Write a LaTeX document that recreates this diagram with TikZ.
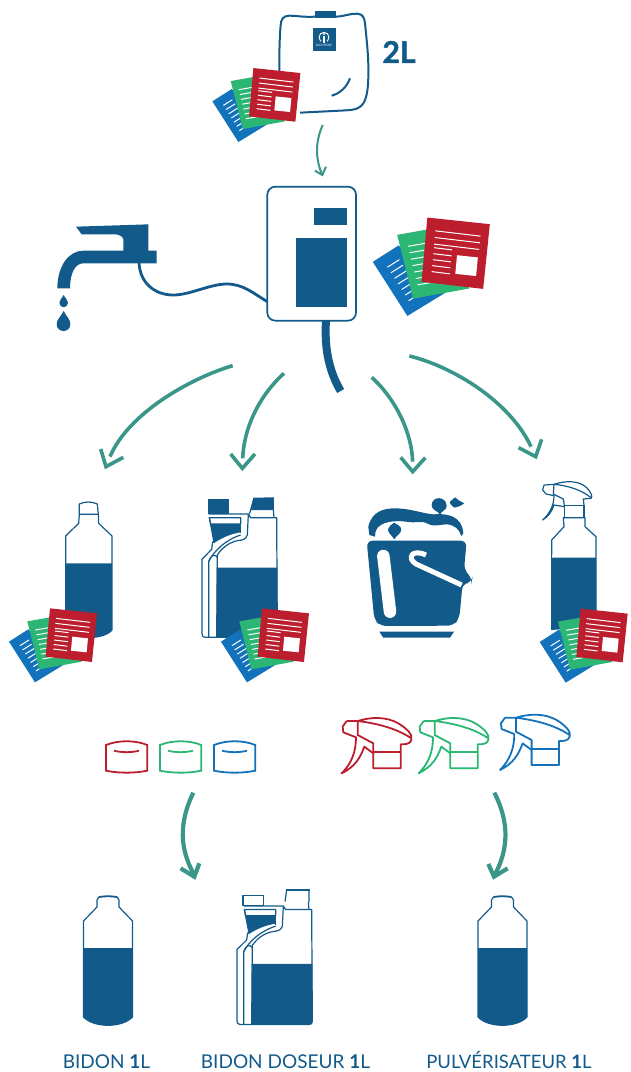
\documentclass[tikz,border=0pt]{standalone}
\usepackage{fontspec}
\setmainfont{Lato}
\definecolor{BlueClr}{RGB}{17,90,138}
\definecolor{SheetClr}{RGB}{18,114,188}
\definecolor{GreenClr}{RGB}{43,182,115}
\definecolor{RedClr}{RGB}{188,30,45}
\definecolor{TealClr}{RGB}{58,150,136}
\tikzset{
  wire/.style={color=BlueClr,line width=1.2pt,line join=round},
  flow/.style={color=TealClr,line width=3.6pt},
  flowbig/.style={color=TealClr,line width=4.2pt},
  flowthin/.style={color=TealClr,line width=2pt},
  tick/.style={white,line width=1pt},
  caption/.style={BlueClr,inner sep=0pt,anchor=base},
  pics/docstack/.style={code={
    \begin{scope}[shift={(-71.33,-155)},scale=1/3]
    \fill[SheetClr] (27,485) -- (85,448) -- (190,555) -- (105,607) -- cycle;
    \foreach \i in {0,...,6} \draw[tick] ({60+8*\i},{497+12.6*\i}) -- ++(27,-17);
    \fill[GreenClr] (82,424) -- (150,412) -- (245,545) -- (118,568) -- cycle;
    \foreach \i in {0,...,6} \draw[tick] ({106+3.6*\i},{450+14.5*\i}) -- ++(40,-7);
    \fill[RedClr] (150,385) -- (291,400) -- (276,546) -- (137,530) -- cycle;
    \foreach \i in {0,1,2} \draw[tick] ({168-1.5*\i},{415+15*\i}) -- ++(102,12);
    \foreach \i in {0,...,4} \draw[tick] ({165-1.3*\i},{453+13.5*\i}) -- ++(41,5);
    \fill[white] (217,470) -- (264,475) -- (260,517) -- (213,512) -- cycle;
    \end{scope}
  }},
  pics/smallbottle/.style={code={
    \fill[BlueClr] (-24.5,52) -- (24.5,52) -- (24.5,121) .. controls (14,132) and (-14,132) .. (-24.5,121) -- cycle;
    \draw[wire] (-9,1) -- (-11,4) -- (-11,11) -- (-24.5,25) -- (-24.5,121) .. controls (-14,132) and (14,132) .. (24.5,121) -- (24.5,25) -- (11,11) -- (11,4) -- (9,1);
    \draw[BlueClr,line width=1.8pt] (-9,1) .. controls (-3,0) and (3,0) .. (9,1);
  }},
  pics/doser/.style={code={
    \begin{scope}[scale=1/3]
    \fill[BlueClr] (650,#1) -- (832,#1) -- (832,462) .. controls (832,470) and (828,472) .. (822,472) -- (650,472) -- cycle;
    \fill[BlueClr] (632,132) -- (722,132) -- (722,155) .. controls (690,160) and (665,172) .. (642,187) -- cycle;
    \draw[wire] (626,102) -- (745,102) -- (752,113) -- (830,113) -- (832,462) .. controls (832,470) and (828,472) .. (822,472) -- (615,472) .. controls (608,472) and (606,468) .. (606,460) -- (606,238) -- (635,208) -- (638,186) -- (642,187) .. controls (665,172) and (690,160) .. (722,155);
    \draw[wire] (628,113) -- (722,113) -- (722,132) -- (632,132) -- cycle;
    \draw[wire] (628,113) -- (642,187);
    \draw[wire] (722,132) -- (722,160);
    \draw[wire] (745,102) -- (742,165) .. controls (738,180) and (725,180) .. (712,182) .. controls (685,188) and (665,205) .. (652,225) -- (650,472);
    \draw[wire] (626,472) -- (626,245) .. controls (640,215) and (675,180) .. (722,165);
    \draw[wire] (626,245) .. controls (632,225) and (645,220) .. (652,232);
    \end{scope}
  }},
  pics/capring/.style={code={
    \begin{scope}[scale=1/3]
    \draw[color=#1,line width=1.8pt] (48,135) .. controls (85,120) and (135,120) .. (172,135) -- (172,212) .. controls (135,220) and (85,220) .. (48,212) -- cycle;
    \draw[color=#1,line width=1.8pt] (72,152) .. controls (95,158) and (125,158) .. (147,152);
    \end{scope}
  }},
  pics/trigger/.style={code={
    \begin{scope}[scale=1/3]
    \draw[color=#1,line width=1.8pt,line join=round] (50,48) -- (38,65) -- (40,82) -- (78,97) .. controls (78,140) and (65,175) .. (35,205) .. controls (75,185) and (90,160) .. (103,125) -- (130,145);
    \draw[color=#1,line width=1.8pt,line join=round] (50,48) -- (83,48) .. controls (125,35) and (170,35) .. (205,55) .. controls (230,70) and (250,90) .. (244,105) .. controls (240,118) and (225,118) .. (212,118) -- (212,190) -- (130,190) -- (130,115) -- (83,90) -- (83,48) .. controls (140,55) and (200,70) .. (244,100);
    \draw[color=#1,line width=1.8pt] (130,142) -- (212,142);
    \end{scope}
  }}
}
\begin{document}
\begin{tikzpicture}[x=1pt,y=-1pt]
\useasboundingbox (0,0) rectangle (630,1072);

% Concentrate pouch.
\begin{scope}[shift={(200,0)},scale=1/3]
\fill[BlueClr] (345,33) rectangle (408,55);
\draw[BlueClr,line width=2pt] (345,50) .. controls (310,52) and (290,47) .. (268,47) .. controls (248,47) and (243,60) .. (242,75) .. controls (238,120) and (238,170) .. (238,215);
\draw[BlueClr,line width=2pt] (408,50) .. controls (430,50) and (450,40) .. (472,41) .. controls (490,42) and (493,55) .. (495,70) .. controls (500,120) and (506,170) .. (505,220) .. controls (505,260) and (502,290) .. (490,310) .. controls (475,332) and (450,330) .. (420,332) -- (300,338);
\draw[BlueClr,line width=2pt] (450,235) .. controls (440,262) and (420,280) .. (395,287);
\fill[BlueClr] (338,83) rectangle (407,152);
\draw[white,line width=.9pt] (372,112) circle (15);
\fill[BlueClr] (364,122) rectangle (380,130);
\draw[white,line width=1.3pt] (372,108) -- (372,128);
\fill[white] (372,102) circle (3.5);
\node[white,font=\fontsize{3}{3}\selectfont,inner sep=0pt] (logotext) at (372,137) {DUCHESNE};
\end{scope}
\node[BlueClr,font=\bfseries\fontsize{30}{30}\selectfont\addfontfeature{FakeBold=1.5},inner sep=0pt] (volume) at (399,52) {2L};
\pic at (274.7,94.7) {docstack};

% Small arrow to the unit.
\begin{scope}[shift={(200,0)},scale=1/3]
\draw[flowthin] (368,375) .. controls (346,425) and (345,475) .. (367,525);
\draw[flowthin] (345,512) -- (367,525) -- (378,500);
\end{scope}

% Tap, hose and drain.
\begin{scope}[shift={(40,180)},scale=1/3]
\fill[BlueClr] (108,140) -- (325,133) -- (325,212) -- (350,212) -- (350,250) -- (130,250) .. controls (105,250) and (90,280) .. (90,325) -- (52,325) .. controls (52,260) and (85,212) .. (130,212) -- (250,212) -- (250,178) .. controls (248,168) and (235,163) .. (225,163) -- (125,163) -- cycle;
\fill[BlueClr] (71,345) .. controls (76,355) and (84,360) .. (84,368) .. controls (84,386) and (58,386) .. (58,368) .. controls (58,360) and (66,355) .. (71,345) -- cycle;
\fill[BlueClr] (71,393) .. controls (78,408) and (91,418) .. (91,432) .. controls (91,460) and (50,460) .. (50,432) .. controls (50,418) and (64,408) .. (71,393) -- cycle;
\draw[BlueClr,line width=2.8pt] (297,248) .. controls (300,310) and (345,345) .. (400,345) .. controls (450,345) and (510,312) .. (560,312) .. controls (610,312) and (640,340) .. (682,365);
\draw[BlueClr,line width=8pt] (858,422) .. controls (853,500) and (865,570) .. (902,633);
\draw[BlueClr,line width=1.7pt,fill=white,rounded corners=8pt] (682,20) rectangle (948,422);
\fill[BlueClr] (822,84) rectangle (921,134);
\fill[BlueClr] (768,174) rectangle (921,381);
\end{scope}
\pic[scale=1.33] at (455.7,253) {docstack};

% Arrows to the four containers.
\begin{scope}[shift={(90,350)},scale=1/3]
\draw[flow] (428,47) .. controls (300,85) and (115,190) .. (60,320);
\draw[flow] (32,297) -- (48,350) -- (100,322);
\draw[flow] (582,70) .. controls (510,135) and (462,230) .. (458,325);
\draw[flow] (422,312) -- (457,355) -- (495,312);
\end{scope}
\begin{scope}[shift={(360,345)},scale=1/3]
\draw[flow] (35,97) .. controls (105,160) and (155,260) .. (158,350);
\draw[flow] (122,337) -- (158,380) -- (196,338);
\draw[flow] (148,33) .. controls (280,65) and (450,170) .. (513,305);
\draw[flow] (476,308) -- (527,335) -- (545,283);
\end{scope}

% Bottle.
\begin{scope}[shift={(0,480)},scale=1/3]
\fill[BlueClr] (197,250) -- (336,250) -- (336,450) .. controls (310,480) and (225,480) .. (197,450) -- cycle;
\draw[wire] (238,103) -- (236,130) -- (197,168) -- (197,450) .. controls (225,480) and (310,480) .. (336,450) -- (336,168) -- (296,130) -- (295,103) -- cycle;
\draw[wire] (238,103) -- (238,72) .. controls (255,64) and (275,64) .. (292,72) -- (295,103);
\end{scope}
\pic at (71.3,635) {docstack};

% Doser jug.
\begin{scope}[shift={(0,480)},scale=1/3]
\fill[BlueClr] (624,58) rectangle (686,102);
\fill[BlueClr] (750,90) -- (760,53) -- (822,52) -- (822,90) -- cycle;
\draw[wire] (752,90) -- (748,102);
\draw[wire] (820,90) -- (822,113);
\end{scope}
\pic at (0,480) {doser=263};
\pic at (283.3,635) {docstack};

% Bucket.
\begin{scope}[shift={(340,470)},scale=1/3]
\fill[BlueClr,rounded corners=6pt] (80,212) -- (380,212) -- (372,300) -- (397,325) -- (395,338) -- (368,340) -- (358,445) -- (340,467) -- (122,468) -- (103,450) -- cycle;
\draw[white,line width=12.5pt,line cap=round] (130,258) -- (150,425);
\draw[white,line width=5pt] (365,345) -- (228,282) .. controls (200,265) and (215,235) .. (258,255);
\fill[BlueClr] (118,485) -- (342,485) -- (330,503) -- (130,503) -- cycle;
\fill[BlueClr] (85,170) .. controls (95,125) and (130,115) .. (165,115) .. controls (210,115) and (245,130) .. (280,133) .. controls (320,130) and (365,135) .. (370,190) -- (364,198) .. controls (358,178) and (345,165) .. (320,163) .. controls (300,163) and (285,172) .. (265,162) .. controls (245,150) and (225,160) .. (205,156) .. controls (180,152) and (135,150) .. (114,172) .. controls (106,182) and (105,190) .. (105,200) -- (88,195) -- cycle;
\fill[BlueClr] (162,158) .. controls (175,165) and (184,170) .. (184,180) .. controls (182,192) and (170,195) .. (163,208) .. controls (155,195) and (144,190) .. (144,178) .. controls (145,168) and (155,165) .. (162,158) -- cycle;
\fill[BlueClr] (275,106) .. controls (275,76) and (320,78) .. (320,108) .. controls (320,120) and (305,122) .. (300,134) .. controls (295,122) and (275,122) .. (275,106) -- cycle;
\fill[BlueClr] (345,82) .. controls (352,90) and (362,94) .. (373,100) .. controls (362,108) and (352,112) .. (343,113) .. controls (335,108) and (328,100) .. (330,95) .. controls (335,90) and (340,88) .. (345,82) -- cycle;
\end{scope}

% Spray bottle.
\begin{scope}[shift={(340,470)},scale=1/3]
\fill[BlueClr] (633,263) -- (768,263) -- (768,470) -- (633,480) -- cycle;
\end{scope}
\begin{scope}[shift={(530,475)},scale=1/3]
\draw[wire] (65,240) -- (65,195) -- (102,155) -- (100,128) -- (165,128) -- (165,155) -- (198,185) -- (198,420);
\draw[wire] (65,240) -- (65,460);
\draw[wire] (103,128) -- (103,92) -- (162,92) -- (162,128);
\draw[wire] (42,30) -- (38,45) -- (48,57) -- (72,62) .. controls (72,90) and (60,115) .. (38,135) .. controls (55,125) and (65,110) .. (72,90) -- (103,95);
\draw[wire] (42,30) -- (72,28) .. controls (110,15) and (150,18) .. (170,38) .. controls (180,48) and (190,65) .. (183,70) -- (160,72) -- (162,92);
\draw[wire] (72,28) -- (70,57) -- (100,72) -- (103,92);
\draw[wire] (72,28) .. controls (115,32) and (155,45) .. (183,68);
\end{scope}
\pic at (602,635.3) {docstack};

% Spare caps and triggers.
\pic at (90,700) {capring=RedClr};
\pic at (144,700) {capring=GreenClr};
\pic at (198,700) {capring=SheetClr};
\pic at (330,705) {trigger=RedClr};
\pic at (407,705) {trigger=GreenClr};
\pic at (488.3,701.7) {trigger=SheetClr};

\begin{scope}[shift={(90,700)},scale=1/3]
\draw[flowbig] (310,278) .. controls (265,370) and (270,450) .. (313,525);
\draw[flowbig] (272,505) -- (313,530) -- (328,490);
\draw[flowbig] (1213,278) .. controls (1260,370) and (1255,450) .. (1213,527);
\draw[flowbig] (1195,492) -- (1212,530) -- (1253,505);
\end{scope}

% One litre containers.
\pic at (108,896) {smallbottle};
\begin{scope}[shift={(35,873.4)},yscale=.96,scale=1/3]
\draw[wire,fill=white] (624,70) rectangle (686,100);
\draw[wire,fill=white] (750,88) -- (755,52) -- (822,52) -- (822,90);
\draw[BlueClr,line width=1.8pt] (752,52) -- (824,52);
\draw[wire] (820,90) -- (822,113);
\end{scope}
\pic[yscale=.96] at (35,873.4) {doser=283};
\pic at (502.5,896) {smallbottle};

\node[caption,font=\fontsize{19}{19}\selectfont] (bidon) at (106.5,1068) {BIDON \textbf{1}L};
\node[caption,font=\fontsize{19}{19}\selectfont] (doseur) at (285.5,1068) {BIDON DOSEUR \textbf{1}L};
\node[caption,font=\fontsize{18.5}{18.5}\selectfont] (pulve) at (509,1068) {PULVÉRISATEUR \textbf{1}L};
\end{tikzpicture}
\end{document}
